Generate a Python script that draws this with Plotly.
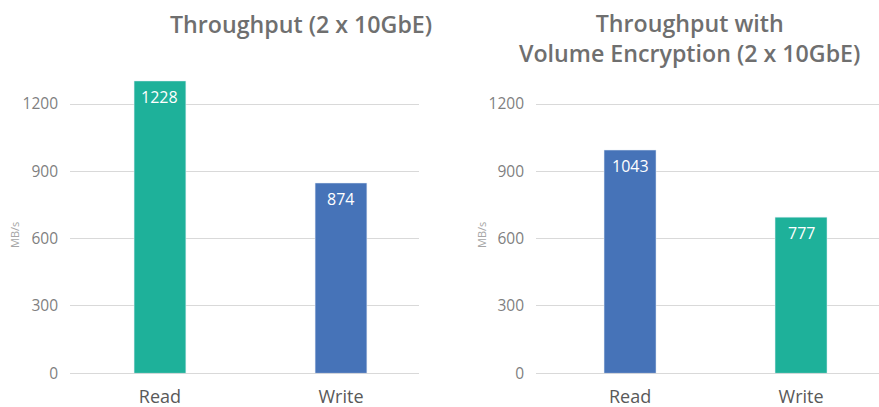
import plotly.graph_objects as go

categories = ["Read", "Write"]
# bar heights (MB/s)
plain_values = [1303, 848]
enc_values = [995, 696]
# printed data labels
plain_labels = ["1228", "874"]
enc_labels = ["1043", "777"]
plain_colors = ["#1eb19a", "#4673b8"]
enc_colors = ["#4673b8", "#1eb19a"]
y_ticks = [0, 300, 600, 900, 1200]

W, H = 879, 407
FONT = "Open Sans"

fig = go.Figure()
fig.add_trace(go.Bar(x=categories, y=plain_values, marker_color=plain_colors,
                     width=0.286, xaxis="x", yaxis="y", showlegend=False))
fig.add_trace(go.Bar(x=categories, y=enc_values, marker_color=enc_colors,
                     width=0.304, xaxis="x2", yaxis="y2", showlegend=False))

annotations = []
for xr, yr, vals, labs in [("x", "y", plain_values, plain_labels),
                           ("x2", "y2", enc_values, enc_labels)]:
    for c, v, t in zip(categories, vals, labs):
        annotations.append(dict(x=c, y=v, xref=xr, yref=yr, text=t, showarrow=False,
                                yanchor="top", yshift=-3,
                                font=dict(family=FONT, size=16, color="white")))

title_font = dict(family=FONT, size=23.2, color="#6f6f6f", weight=600)
annotations += [
    dict(x=301 / W, y=1 - 24 / H, xref="paper", yref="paper", text="Throughput (2 x 10GbE)",
         showarrow=False, xanchor="center", yanchor="middle", font=title_font),
    dict(x=689 / W, y=1 - 38 / H, xref="paper", yref="paper",
         text="Throughput with<br>Volume Encryption (2 x 10GbE)",
         showarrow=False, xanchor="center", yanchor="middle", font=title_font),
    dict(x=15 / W, y=1 - 235 / H, xref="paper", yref="paper", text="MB/s", textangle=-90,
         xanchor="center", yanchor="middle",
         showarrow=False, font=dict(family=FONT, size=11, color="#a6a6a6")),
    dict(x=482 / W, y=1 - 235 / H, xref="paper", yref="paper", text="MB/s", textangle=-90,
         xanchor="center", yanchor="middle",
         showarrow=False, font=dict(family=FONT, size=11, color="#a6a6a6")),
]

ybot = (H - 373.3) / H
ytop = (H - 70.4) / H
yaxis_common = dict(range=[0, 1350], tickvals=y_ticks, showgrid=True, gridcolor="#d9d9d9",
                    gridwidth=1.3, zeroline=True, zerolinecolor="#d9d9d9", zerolinewidth=1.3,
                    showline=False, ticks="", ticklabelstandoff=11, automargin=False,
                    tickfont=dict(family=FONT, size=15.5, color="#7f7f7f"),
                    domain=[ybot, ytop], fixedrange=True)
xaxis_common = dict(showgrid=False, zeroline=False, showline=False, ticks="outside",
                    ticklen=7, tickcolor="rgba(0,0,0,0)", automargin=False, fixedrange=True,
                    tickfont=dict(family=FONT, size=18, color="#595959"))

fig.update_layout(
    width=W, height=H, margin=dict(l=0, r=0, t=0, b=0, autoexpand=False),
    paper_bgcolor="white", plot_bgcolor="white",
    xaxis=dict(domain=[70 / W, 419 / W], range=[-0.497, 1.431], anchor="y", **xaxis_common),
    yaxis=dict(anchor="x", **yaxis_common),
    xaxis2=dict(domain=[536 / W, 1.0], range=[-0.55, 1.456], anchor="y2", **xaxis_common),
    yaxis2=dict(anchor="x2", **yaxis_common),
    annotations=annotations,
    hovermode=False,
)

fig.write_html("out.html", config={"displayModeBar": False},
               post_script="document.body.style.margin='0';document.body.style.overflow='hidden';")
